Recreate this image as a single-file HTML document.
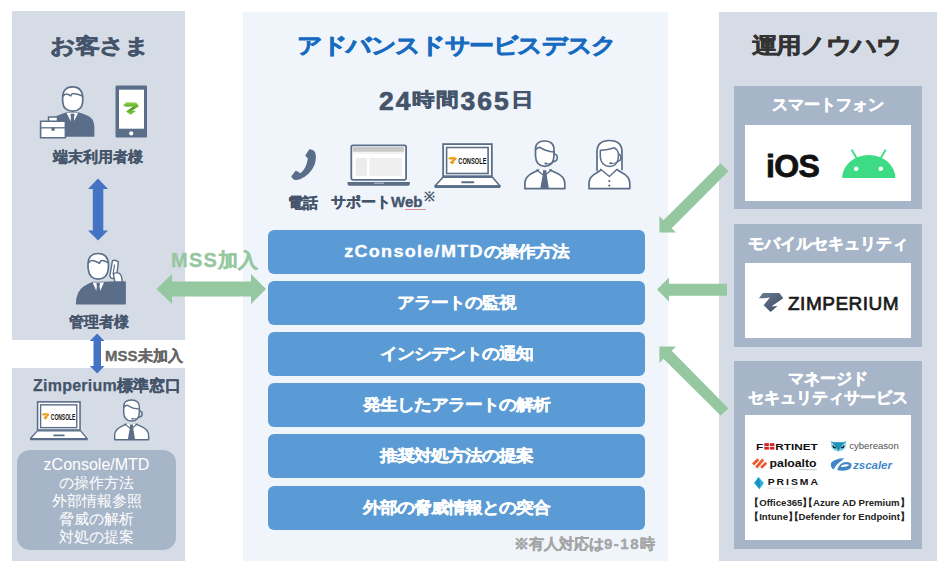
<!DOCTYPE html>
<html><head><meta charset="utf-8">
<style>
*{margin:0;padding:0;box-sizing:border-box}
html,body{width:950px;height:573px;overflow:hidden;background:#fff}
body{position:relative;font-family:"Liberation Sans",sans-serif;color:#44546a}
.a{position:absolute}
.pl{background:#d6dce5}
.t{position:absolute;white-space:nowrap;font-weight:bold;line-height:1}
.k{-webkit-text-stroke:0.7px currentColor}
.bb{position:absolute;left:268px;width:377px;height:44px;background:#5b9bd5;border-radius:6px;color:#fff;font-weight:bold;font-size:17.4px;text-align:center;line-height:44px;white-space:nowrap;-webkit-text-stroke:0.35px #fff}
.gb{position:absolute;left:734px;width:188px;background:#a7b5c8}
.wb{position:absolute;left:745px;width:166px;background:#fff}
.gt{position:absolute;left:734px;width:188px;text-align:center;color:#fff;font-weight:bold;font-size:16px;line-height:1;white-space:nowrap;-webkit-text-stroke:0.5px #fff}
.brk i{font-style:normal;margin-left:-4.8px}.brk b{font-weight:bold;margin-right:-4.6px}
.bi{display:inline-block;transform:scaleY(0.9);line-height:44px}
svg.ov{position:absolute;left:0;top:0;width:950px;height:573px;overflow:visible}
</style></head><body>
<!-- panels -->
<div class="a pl" style="left:12px;top:11px;width:173px;height:329px"></div>
<div class="a pl" style="left:12px;top:368px;width:173px;height:193px"></div>
<div class="a" style="left:243px;top:12px;width:425px;height:549px;background:#f0f5fb"></div>
<div class="a pl" style="left:719px;top:12px;width:218px;height:549px"></div>
<div class="a" style="left:17px;top:450px;width:159px;height:100px;background:#a7b5c8;border-radius:13px"></div>

<!-- left texts -->
<div class="t k" style="left:50px;top:35px;font-size:25.5px;letter-spacing:-2px;transform:scaleY(0.84);transform-origin:0 0">お客さま</div>
<div class="t k" style="left:53px;top:149px;font-size:15px;-webkit-text-stroke:0.2px currentColor">端末利用者様</div>
<div class="t k" style="left:69px;top:314px;font-size:15px;-webkit-text-stroke:0.1px currentColor">管理者様</div>
<div class="t k" style="left:105px;top:348px;font-size:15px;color:#666;-webkit-text-stroke:0.3px currentColor">MSS未加入</div>
<div class="t k" style="left:33px;top:378px;font-size:16px;-webkit-text-stroke:0.25px currentColor"><span style="letter-spacing:0.25px">Zimperium</span>標準窓口</div>
<div class="a" style="left:17px;top:455.5px;width:159px;text-align:center;color:#fff;font-size:15.2px;line-height:18px"><span style="font-size:16px">zConsole/MTD</span><br>の操作方法<br>外部情報参照<br>脅威の解析<br>対処の提案</div>
<div class="t k" style="left:171px;top:250px;font-size:20px;color:#95c8a0;-webkit-text-stroke:0.35px currentColor"><span style="letter-spacing:1.3px">MSS</span>加入</div>

<!-- center texts -->
<div class="t k" style="left:297px;top:35px;font-size:25.5px;color:#176bc0;letter-spacing:-2.4px;transform:scaleY(0.88);transform-origin:0 0">アドバンスドサービスデスク</div>
<div class="t k" style="left:379px;top:88px;font-size:22.5px;line-height:26px"><span style="font-size:26.5px;letter-spacing:2px">24</span><span style="display:inline-block;transform:scaleY(0.84);transform-origin:50% 80%;position:relative;top:-4px;letter-spacing:1px">時間</span><span style="font-size:26.5px;letter-spacing:2px">365</span><span style="display:inline-block;transform:scaleY(0.84);transform-origin:50% 80%;position:relative;top:-4px">日</span></div>
<div class="t k" style="left:288px;top:195px;font-size:15px;-webkit-text-stroke:0.3px currentColor">電話</div>
<div class="t k" style="left:331px;top:194px;font-size:15px;-webkit-text-stroke:0.35px currentColor">サポートWeb</div>
<div class="t" style="left:424px;top:190px;font-size:13px">※</div>
<div class="a" style="left:405px;top:209px;width:21px;height:1px;background:#e06060;opacity:.7"></div>
<div class="t k" style="left:514px;top:536px;font-size:14.5px;color:#a5a5a5;-webkit-text-stroke:0.4px currentColor">※有人対応は<span style="font-size:15px;letter-spacing:1.5px">9-18</span>時</div>

<div class="bb" style="top:230px"><span class="bi"><span style="letter-spacing:1.3px;font-size:18px">zConsole/MTD</span>の操作方法</span></div>
<div class="bb" style="top:281px"><span class="bi">アラートの監視</span></div>
<div class="bb" style="top:332px"><span class="bi">インシデントの通知</span></div>
<div class="bb" style="top:383px"><span class="bi">発生したアラートの解析</span></div>
<div class="bb" style="top:434px"><span class="bi">推奨対処方法の提案</span></div>
<div class="bb" style="top:486px"><span class="bi">外部の脅威情報との突合</span></div>

<!-- right -->
<div class="t k" style="left:752px;top:35px;font-size:25px;color:#333;letter-spacing:-0.8px;transform:scaleY(0.86);transform-origin:0 0">運用ノウハウ</div>
<div class="gb" style="top:86px;height:123px"></div>
<div class="wb" style="top:125px;height:76px"></div>
<div class="gb" style="top:224px;height:123px"></div>
<div class="wb" style="top:263px;height:75px"></div>
<div class="gb" style="top:361px;height:188px"></div>
<div class="wb" style="top:415px;height:125px"></div>
<div class="gt" style="top:97px">スマートフォン</div>
<div class="gt" style="top:236px">モバイルセキュリティ</div>
<div class="gt" style="top:371px">マネージド</div>
<div class="gt" style="top:390px">セキュリティサービス</div>
<div class="t" style="left:766px;top:150px;font-size:32px;color:#111;-webkit-text-stroke:0.8px #111;letter-spacing:-0.6px">iOS</div>
<div class="t" style="left:788px;top:294px;font-size:19px;color:#1a1a1a;font-weight:normal;-webkit-text-stroke:0.7px #1a1a1a;letter-spacing:0.5px">ZIMPERIUM</div>
<div class="t brk" style="left:754px;top:496px;font-size:9.6px;color:#222;line-height:13.5px"><i>【</i>Office365<b>】</b><i>【</i>Azure AD Premium<b>】</b><br><i>【</i>Intune<b>】</b><i>【</i>Defender for Endpoint<b>】</b></div>

<svg class="ov" viewBox="0 0 950 573">
 <g fill="#95c8a0">
  <!-- MSS double arrow -->
  <polygon points="156.5,289 172,274 172,281.5 251,281.5 251,274 266,289 251,304 251,296.5 172,296.5 172,304"/>
  <!-- horizontal -->
  <polygon points="657,289.5 669,277.5 669,283.7 727,283.7 727,295.8 669,295.8 669,301.5"/>
  <!-- diag down-left -->
  <polygon points="659.4,232.4 659.4,216 663.5,220.2 720.6,163.3 728.5,171.2 671.7,228.3 676,232.4"/>
  <!-- diag up-left -->
  <polygon points="659.4,346.5 676,346.5 671.7,350.8 728.5,408.5 720.6,415.6 663.5,358.8 659.4,363"/>
 </g>
 
 <!-- man with briefcase -->
 <g stroke="#5a6d89" stroke-width="1.7" stroke-linejoin="round">
  <path d="M51.5,136 L51.5,126 Q52,117.5 61,115 L67,113 L78,113 L84,115 Q93,117.5 93.5,126 L93.5,136 Z" fill="#5a6d89"/>
  <path d="M66.5,112.8 L72.3,124.5 L78.2,112.8 Z" fill="#fff" stroke="none"/>
  <path d="M70.4,114 Q72.5,113 74.6,114 L74,118 L74.4,124 L72.3,126.5 L70.2,124 L70.9,118 Z" fill="#5a6d89" stroke="none"/>
  <path d="M62.6,99 Q62.3,87 72.6,86.9 Q82.8,87 82.8,99 L82.6,102.5 Q81.5,111 72.6,111.2 Q63.6,111 62.8,102.5 Z" fill="#fff"/>
  <path d="M63.2,96.4 Q64.5,93.8 66.5,94 Q69,94.5 70.8,95.9 Q71.5,93.3 73.5,93.6 Q79,94.3 82.5,96" fill="none" stroke-width="1.5"/>
  <rect x="48.5" y="117" width="9" height="5" fill="#fff" stroke-width="1.5"/>
  <rect x="40.6" y="121.2" width="24.8" height="16.6" fill="#fff" stroke-width="1.6"/>
  <path d="M40.6,127.8 L65.4,127.8" fill="none" stroke-width="1.3"/>
  <rect x="51.5" y="127.5" width="3.2" height="3.2" fill="#5a6d89" stroke="none"/>
 </g>
 <!-- phone -->
 <rect x="115.5" y="85.5" width="31.5" height="52" rx="1.2" fill="#5a6d89"/>
 <rect x="119" y="89.7" width="25" height="39" fill="#fff"/>
 <circle cx="131.2" cy="133.4" r="2.1" fill="#fff"/>
 <defs><linearGradient id="zg" x1="0" y1="0" x2="0" y2="1"><stop offset="0" stop-color="#8fd444"/><stop offset="0.5" stop-color="#4f9e28"/><stop offset="1" stop-color="#8fd444"/></linearGradient>
 <linearGradient id="zo" x1="0" y1="0" x2="0" y2="1"><stop offset="0" stop-color="#f6b526"/><stop offset="0.55" stop-color="#e08a10"/><stop offset="1" stop-color="#f7b932"/></linearGradient></defs>
 <polygon points="123,105.6 126.4,102.3 136,102.5 139,106 132,110.8 136,110.8 130.6,115 126,111.5 133,106.5 126,106.8" fill="url(#zg)"/>
 <!-- manager -->
 <g stroke="#5a6d89" stroke-width="1.7" stroke-linejoin="round">
  <path d="M76.7,303.6 Q77,292 84,287.3 Q88,284.6 93,282.6 L103.5,282.6 L115.5,282.2 L125,282.2 L125,303.6 Z" fill="#5a6d89"/>
  <path d="M92.6,282.5 L98.2,295 L104,282.5 Z" fill="#fff" stroke="none"/>
  <path d="M96.3,283.2 Q98.2,282.4 100.1,283.2 L99.5,286.3 L100.6,293.5 L98.2,296.2 L95.8,293.5 L96.9,286.3 Z" fill="#5a6d89" stroke="none"/>
  <path d="M88,265.5 Q87.8,253.6 98.2,253.5 Q108.5,253.6 108.5,265.5 L108.3,269 Q107.2,279 98.2,279.2 Q89.2,279 88.2,269 Z" fill="#fff"/>
  <path d="M88.6,262.8 Q90,260.2 92.5,260.4 Q96,261 99.5,263.3 Q100.5,260.4 102.5,260.6 Q105.5,261 108,262.6" fill="none" stroke-width="1.5"/>
  <path d="M112.5,260.6 Q116,259.5 118.4,262 L116.5,277.5 Q114,279.2 110.8,277.8 L109.8,276 Z" fill="#fff" stroke-width="1.4"/>
  <path d="M114.6,264.5 L113,274.5" fill="none" stroke-width="1.2"/>
  <path d="M113.5,274 Q116,271.5 119.5,273.5 Q122.2,275.5 122,282 L115,282 Q113.8,278 113.5,274 Z" fill="#fff" stroke-width="1.4"/>
 </g>

 <!-- handset -->
 <path d="M309.3,149.3 Q313,149 315,152 Q317,157.5 314.5,165 Q310,175 300,179.2 Q296,180.6 293.5,179.5 L291.2,176.6 L295.8,170.6 L300.6,173.3 Q306.5,168.5 307.8,158.6 L305.2,155.4 Z" fill="#5a6d89"/>
 <!-- web laptop -->
 <rect x="351.3" y="145.3" width="54.8" height="34.5" rx="1.5" fill="#fff" stroke="#5a6d89" stroke-width="1.8"/>
 <rect x="352.7" y="147" width="51.5" height="4.8" fill="#c8c9c9"/>
 <rect x="352.7" y="152.5" width="51.5" height="1.2" fill="#ececec"/>
 <rect x="355.8" y="157.9" width="11.3" height="17.9" fill="#ececec"/>
 <rect x="369.3" y="157.9" width="32.7" height="17.9" fill="#efefef"/>
 <path d="M347.5,181.9 L409.9,181.9 L409.9,183.5 Q409.9,185.8 407,185.8 L350.5,185.8 Q347.5,185.8 347.5,183.5 Z" fill="#5a6d89"/>
 <rect x="374" y="182.6" width="10" height="1.3" fill="#a4b0c0"/>
 <!-- console laptop -->
 <g id="lap">
  <rect x="443.15" y="144.1" width="48.7" height="32.1" fill="#fff" stroke="#5a6d89" stroke-width="1.8"/>
  <rect x="446.6" y="147.5" width="41.5" height="26" fill="#fff" stroke="#5a6d89" stroke-width="1.6"/>
  <path d="M443,177.2 L492.5,177.2 L500,186 L435,186 Z" fill="#fff" stroke="#5a6d89" stroke-width="1.6" stroke-linejoin="round"/>
  <rect x="434.5" y="185.2" width="66" height="2.8" rx="1" fill="#5a6d89"/>
  <rect x="461.1" y="181.3" width="13.2" height="2" rx="1" fill="#5a6d89"/>
  <polygon transform="translate(447.9,156.9) scale(0.5625,0.59) translate(-123,-102.3)" points="123,105.6 126.4,102.3 136,102.5 139,106 132,110.8 136,110.8 130.6,115 126,111.5 133,106.5 126,106.8" fill="url(#zo)"/>
  <text x="458.3" y="164.4" font-family="Liberation Sans" font-weight="bold" font-size="9.8" textLength="28.2" lengthAdjust="spacingAndGlyphs" fill="#111">CONSOLE</text>
 </g>
 <use href="#lap" transform="translate(36.8,401.1) scale(0.872,0.876) translate(-442.25,-143.2)"/>
 <!-- male operator -->
 <g id="mop" stroke="#5a6d89" stroke-width="1.7" stroke-linejoin="round" stroke-linecap="round">
  <path d="M538.5,170 L532.5,173 Q525.3,176.5 524.9,183 L524.9,188.6 L564.8,188.6 L564.8,183 Q564.4,176.5 556.5,173 L550,170" fill="#fff"/>
  <path d="M536.8,170 L544.3,175.8 L551.4,170" fill="none" stroke-width="1.4"/>
  <path d="M542.8,170.3 L546.6,170.3 L546.4,173.2 L548.9,188.6 L540.3,188.6 L543,173.2 Z" fill="#5a6d89" stroke="none"/>
  <path d="M535.5,150 Q535,141 544.8,141 Q554.2,141 554,150.5 L554,156 Q553.5,166.2 544.8,166.3 Q536,166.2 535.5,156 Z" fill="#fff"/>
  <path d="M535.6,149.8 Q539,146 541.5,148.2 Q545.5,151.2 554,152" fill="none" stroke-width="1.5"/>
  <path d="M554,154 Q557.5,154.5 557.3,157.5 Q557.3,161 554,161.5" fill="none" stroke-width="1.6"/>
  <path d="M554,161.5 Q551,164.5 546,163.8" fill="none" stroke-width="1.1"/>
  <ellipse cx="545.8" cy="163.6" rx="1.5" ry="1" fill="#5a6d89" stroke="none"/>
 </g>
 <use href="#mop" transform="translate(114,399.6) scale(0.85,0.835) translate(-524.1,-140.6)"/>
 <!-- female operator -->
 <g stroke="#5a6d89" stroke-width="1.7" stroke-linejoin="round" stroke-linecap="round">
  <path d="M597,170.3 L597,152 Q597,140.5 609.5,140.5 Q622,140.5 622,152 L622,169.5" fill="#fff"/>
  <path d="M601,170 L596.5,173 Q589.4,176.5 589,183 L589,188.6 L629.8,188.6 L629.8,183 Q629.4,176.5 622.5,173 L617.5,170" fill="#fff"/>
  <path d="M600.7,169.3 L609.4,176.5 L617,169.3" fill="none" stroke-width="1.4"/>
  <path d="M600.3,150.2 Q607,150.5 614.4,147.8 Q617.5,149.5 618.5,153.7 L618.3,158 Q617.2,166.4 609.4,166.4 Q601,166 600.3,157 Z" fill="#fff" stroke-width="1.5"/>
  <path d="M618.5,154 Q621.2,155 621,157.5 Q621,160.5 618.5,161" fill="none" stroke-width="1.5"/>
  <path d="M618.5,161 Q616,163.8 611,163.4" fill="none" stroke-width="1.1"/>
  <ellipse cx="610.6" cy="163.3" rx="1.5" ry="1" fill="#5a6d89" stroke="none"/>
  <circle cx="609.3" cy="181.1" r="1.1" fill="#5a6d89" stroke="none"/>
  <circle cx="609.3" cy="185.6" r="1.1" fill="#5a6d89" stroke="none"/>
 </g>

 <!-- android -->
 <g fill="#3ddc84">
  <path d="M842.2,178 A26.6,23 0 0 1 895.4,178 Z"/>
  <line x1="852" y1="150.3" x2="856.5" y2="158" stroke="#3ddc84" stroke-width="1.9" stroke-linecap="round"/>
  <line x1="885.3" y1="150.3" x2="880.8" y2="158" stroke="#3ddc84" stroke-width="1.9" stroke-linecap="round"/>
 </g>
 <circle cx="856.2" cy="168.7" r="2.3" fill="#fff"/>
 <circle cx="880.8" cy="168.7" r="2.3" fill="#fff"/>
 <!-- zimperium mark -->
 <defs><linearGradient id="zm" x1="0" y1="0" x2="1" y2="1"><stop offset="0" stop-color="#6a7d95"/><stop offset="1" stop-color="#3f4b5e"/></linearGradient></defs>
 <polygon points="758.9,298.3 762.8,292.9 779.4,292.9 783.3,298.3 771.3,306.4 777.5,306.1 770.6,312 763.6,305.35 769.9,297.6 764,298.2" fill="url(#zm)"/>
 <circle cx="897.2" cy="308" r="1.2" fill="#888"/>
 <!-- fortinet -->
 <text x="755.9" y="449.6" font-family="Liberation Sans" font-weight="bold" font-size="8.6" textLength="7.2" lengthAdjust="spacingAndGlyphs" fill="#111">F</text>
 <g fill="#d8232a">
  <rect x="764.3" y="443.2" width="4.6" height="2.8"/><rect x="769.8" y="443.2" width="4.6" height="2.8"/>
  <rect x="764.3" y="446.8" width="4.6" height="2.8"/><rect x="769.8" y="446.8" width="4.6" height="2.8"/>
 </g>
 <text x="775.3" y="449.6" font-family="Liberation Sans" font-weight="bold" font-size="8.6" textLength="42.5" lengthAdjust="spacingAndGlyphs" fill="#111">RTINET</text>
 <!-- paloalto -->
 <g fill="#ec5a2c">
  <polygon points="757.3,458.3 759.3,460.3 754,465.6 752,463.6"/>
  <polygon points="762.2,458.6 764.2,460.6 757.2,468.6 755.2,466.6"/>
  <polygon points="765.2,461.8 767.2,463.8 762.2,468.8 760.2,466.8"/>
 </g>
 <text x="769.6" y="466.5" font-family="Liberation Sans" font-weight="bold" font-size="10" textLength="47" lengthAdjust="spacingAndGlyphs" fill="#111">paloalto</text>
 <rect x="798.8" y="469.3" width="18" height="0.8" fill="#bbb"/>
 <!-- cybereason -->
 <path d="M830.8,441 L833.5,442.3 L843.5,442.3 L846.2,441 L845.8,446.5 Q844.5,450.8 838.5,451.5 Q832.5,450.8 831.2,446.5 Z" fill="#8fd6e8"/>
 <path d="M830.8,441 L833.5,442.3 L843.5,442.3 L846.2,441 L842.5,445 L838.3,451.2 L834.3,445 Z" fill="#1f92b8"/>
 <path d="M833,445.6 Q833.3,448 836,447.8" fill="none" stroke="#111" stroke-width="1.2"/>
 <path d="M844,445.6 Q843.7,448 841,447.8" fill="none" stroke="#111" stroke-width="1.2"/>
 <text x="849.2" y="449.2" font-family="Liberation Sans" font-size="9.2" textLength="49.6" lengthAdjust="spacingAndGlyphs" fill="#505050">cybereason</text>
 <!-- zscaler -->
 <path d="M844.3,458.3 Q835,458.5 831.2,462.8 Q829.8,467 833.6,469.6 Q836,464.5 841.3,461.1 Z" fill="#3f87c9"/>
 <path fill-rule="evenodd" d="M837,469.8 Q840,462.2 846,462 Q851.8,462.3 851.6,465.5 Q851,470.5 843,470.7 Q839,470.8 837,469.8 Z M841.8,465.2 Q846,463.4 849.5,465 Q846.5,467.3 840.8,466.9 Z" fill="#3f87c9"/>
 <text x="853" y="468.9" font-family="Liberation Sans" font-weight="bold" font-style="italic" font-size="10.5" textLength="39" lengthAdjust="spacingAndGlyphs" fill="#3f88cc">zscaler</text>
 <!-- prisma -->
 <polygon points="758.5,477 763.9,483 759.5,489.3 753.8,483" fill="#27b3df"/>
 <polygon points="758.5,477 760.2,483 759.5,489.3 755.5,483" fill="#1b8fc0"/>
 <text x="767.7" y="485.1" font-family="Liberation Sans" font-weight="bold" font-size="8.4" letter-spacing="1.6" textLength="52.2" lengthAdjust="spacingAndGlyphs" fill="#111">PRISMA</text>
 <rect x="767.3" y="487.8" width="29" height="0.6" fill="#ccc"/>
 <g fill="#4472c4">
  <polygon points="98,178.6 108,189 103.3,189 103.3,230.5 108,230.5 98,240.5 88,230.5 92.8,230.5 92.8,189 88,189"/>
  <polygon points="97.2,333.5 104.5,341 101,341 101,366 104.5,366 97.2,373.5 89.8,366 93.5,366 93.5,341 89.8,341"/>
 </g>
</svg>
</body></html>
